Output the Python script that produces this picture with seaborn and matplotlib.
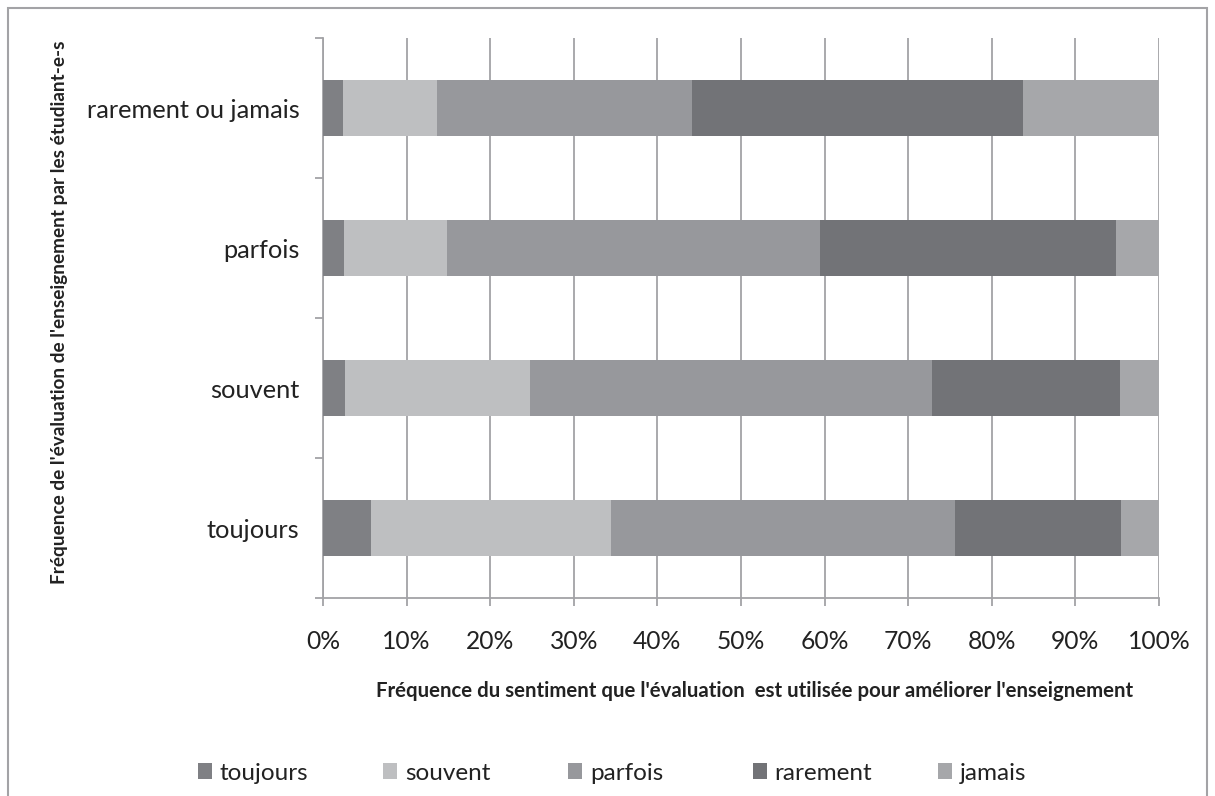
import numpy as np
import pandas as pd
import seaborn as sns
import matplotlib as mpl
from matplotlib import pyplot as plt
from matplotlib.patches import Patch, Rectangle
from matplotlib.ticker import FixedLocator, PercentFormatter

sns.set_style('white')
plt.rcParams['font.family'] = ['Lato', 'DejaVu Sans']

# Rows (y axis), top to bottom
categories = ["rarement ou jamais", "parfois", "souvent", "toujours"]
# Series, in stacking order (percent of each row)
series = ["toujours", "souvent", "parfois", "rarement", "jamais"]
toujours = [2.4, 2.5, 2.6, 5.7]
souvent = [11.2, 12.3, 22.2, 28.8]
parfois = [30.5, 44.6, 48.0, 41.1]
rarement = [39.6, 35.5, 22.5, 19.8]
jamais = [16.3, 5.1, 4.7, 4.6]
colors = ["#7f8084", "#bebfc1", "#97989c", "#727377", "#a6a7aa"]

xlabel = "Fréquence du sentiment que l'évaluation  est utilisée pour améliorer l'enseignement"
ylabel = "Fréquence de l'évaluation de l'enseignement par les étudiant-e-s"

# cumulative sums so each series can be drawn over the next one
df = pd.DataFrame({"cat": categories, "toujours": toujours, "souvent": souvent,
                   "parfois": parfois, "rarement": rarement, "jamais": jamais})
cum = df[series].cumsum(axis=1)
cum["cat"] = df["cat"]

fig = plt.figure(figsize=(12.15, 7.96), dpi=100)
ax = fig.add_axes([323/1215, 1 - 598/796, (1159 - 323)/1215, (598 - 38)/796])

# draw from the longest cumulative bar to the shortest
for name, col in reversed(list(zip(series, colors))):
    sns.barplot(data=cum, x=name, y="cat", order=categories, color=col,
                width=0.4, linewidth=0, saturation=1, ax=ax, zorder=3)

ax.set_xlim(0, 100)
ax.set_ylim(3.5, -0.5)
ax.xaxis.set_major_locator(FixedLocator(np.arange(0, 101, 10)))
ax.xaxis.set_major_formatter(PercentFormatter(decimals=0))
ax.grid(axis='x', color='#a3a3a6', linewidth=1.3, zorder=0)
ax.set_axisbelow(True)

ax.yaxis.set_minor_locator(FixedLocator([-0.5, 0.5, 1.5, 2.5, 3.5]))
ax.tick_params(axis='y', which='major', length=0, pad=17, labelsize=18.3, labelcolor='#222222')
ax.tick_params(axis='y', which='minor', left=True, length=6, width=1.3, color='#a3a3a6')
ax.tick_params(axis='x', which='major', bottom=True, length=6, width=1.3, color='#a3a3a6',
               pad=17, labelsize=17.7, labelcolor='#222222')

for side in ['top', 'right']:
    ax.spines[side].set_visible(False)
for side in ['left', 'bottom']:
    ax.spines[side].set_color('#a3a3a6')
    ax.spines[side].set_linewidth(1.3)

ax.set_xlabel("")
ax.set_ylabel("")
fig.text(755/1215, 1 - 691/796, xlabel, ha='center', va='center',
         fontsize=14.7, fontweight='bold', color='#222222')
fig.text(60/1215, 1 - 312/796, ylabel, rotation=90, ha='center', va='center',
         fontsize=13.7, fontweight='bold', color='#222222')

# Excel-style legend: equal-width entries along the bottom
for i, (name, col) in enumerate(zip(series, colors)):
    leg = fig.legend([Patch(facecolor=col, edgecolor='none')], [name], loc='center left',
                     bbox_to_anchor=((176 + 185 * i)/1215, 1 - 773/796), frameon=False,
                     fontsize=17.5, handlelength=0.6, handleheight=0.6,
                     handletextpad=0.3, labelcolor='#222222')

# outer chart frame
fig.patches.append(Rectangle((8/1215, -0.05), (1207 - 8)/1215, 1.05 - 8/796,
                             transform=fig.transFigure, fill=False,
                             edgecolor='#a3a3a6', linewidth=1.5))

plt.savefig("out.png", dpi=100)
plt.close()
